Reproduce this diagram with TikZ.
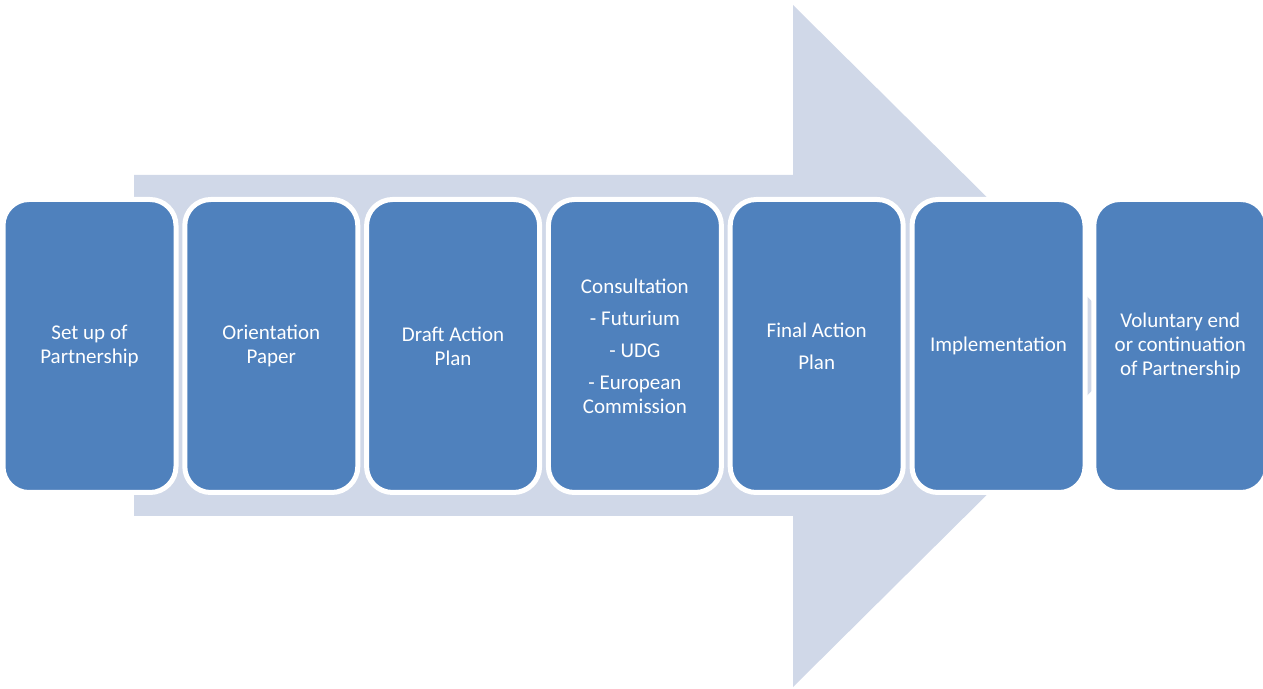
\documentclass[tikz,border=0pt]{standalone}
\usepackage{fontspec}
\setmainfont{Carlito}
\usetikzlibrary{positioning}
\definecolor{stageblue}{HTML}{4F81BD}
\definecolor{arrowgrey}{HTML}{D0D8E8}
\tikzset{
    stage/.style={rectangle,rounded corners=26pt,fill=stageblue,draw=white,line width=5pt,
        minimum width=173pt,minimum height=293pt,inner sep=4pt,text=white,align=center,
        font=\fontsize{21}{24}\selectfont}
}

\begin{document}
\begin{tikzpicture}[line cap=round,line join=round,x=1pt,y=1pt]
            \useasboundingbox (0,0) rectangle (1263,688);
            % big background arrow
            \fill [arrowgrey] (134,513) -- (793,513) -- (793,683) -- (1137,342) -- (793,1) -- (793,172) -- (134,172) -- cycle;
            % process stages
            \node [stage] (setup) at (89.5,342) {Set up of\\Partnership};
            \node [stage] (orient) at (271.3,342) {Orientation\\Paper};
            \node [stage] (draft) at (453.1,342) {Draft Action\\Plan};
            \node [stage] (consult) at (634.9,342) {Consultation\\[8pt]- Futurium\\[8pt]- UDG\\[8pt]- European\\Commission};
            \node [stage] (final) at (816.7,342) {Final Action\\[8pt]Plan};
            \node [stage] (impl) at (998.5,342) {Implementation};
            \node [stage] (endp) at (1180.3,342) {Voluntary end\\or continuation\\of Partnership};
        \end{tikzpicture}
\end{document}
